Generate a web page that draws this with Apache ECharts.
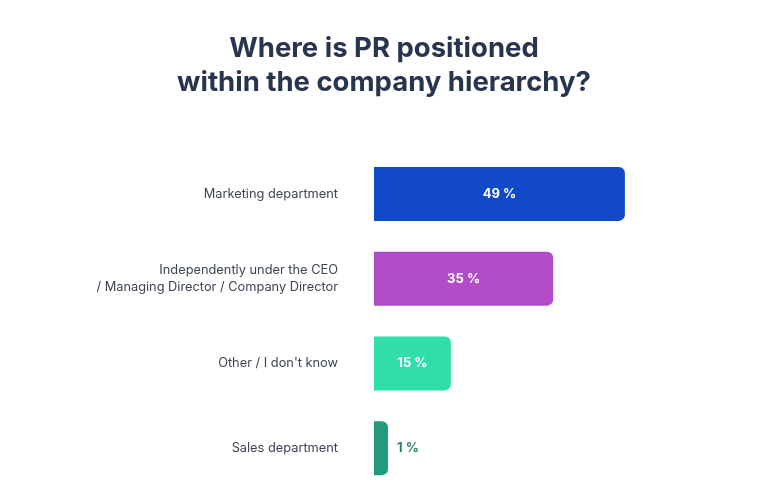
<!DOCTYPE html>
<html><head><meta charset="utf-8">
<script src="https://cdn.jsdelivr.net/npm/echarts@6/dist/echarts.min.js"></script>
<style>html,body{margin:0;padding:0;background:#fff}#c{width:768px;height:497px}</style>
</head><body><div id="c"></div>
<script>
const categories = ["Marketing department", "Independently under the CEO\n/ Managing Director / Company Director", "Other / I don't know", "Sales department"];
const values = [49, 35, 15, 1];
const colors = ["#1149c9", "#b24bc8", "#2fdea9", "#239a7b"];
const labelColors = ["#ffffff", "#ffffff", "#ffffff", "#2a8466"];
const labelPos = ["inside", "inside", "inside", "right"];

const chart = echarts.init(document.getElementById('c'));
chart.setOption({
  animation: false,
  title: {
    text: "Where is PR positioned\nwithin the company hierarchy?",
    left: 'center', top: 27,
    textStyle: { fontFamily: 'Inter', fontWeight: 700, fontSize: 27.5, lineHeight: 34, color: '#28354f' }
  },
  grid: { left: 374, right: 138, top: 151.5, bottom: 6.5, containLabel: false },
  xAxis: { type: 'value', min: 0, max: 50, show: false },
  yAxis: {
    type: 'category', inverse: true, data: categories,
    axisLine: { show: false }, axisTick: { show: false },
    axisLabel: { margin: 36, fontFamily: 'Inter', fontSize: 12.8, lineHeight: 17, color: '#3c4352', align: 'right' }
  },
  series: [{
    type: 'bar', barWidth: 54, barMinHeight: 14,
    data: values.map((v, i) => ({
      value: v,
      itemStyle: { color: colors[i], borderRadius: [0, 6, 6, 0] },
      label: { position: labelPos[i], color: labelColors[i], distance: 9 }
    })),
    label: { show: true, formatter: '{c} %', fontFamily: 'Inter', fontWeight: 700, fontSize: 13 }
  }]
});
</script></body></html>
